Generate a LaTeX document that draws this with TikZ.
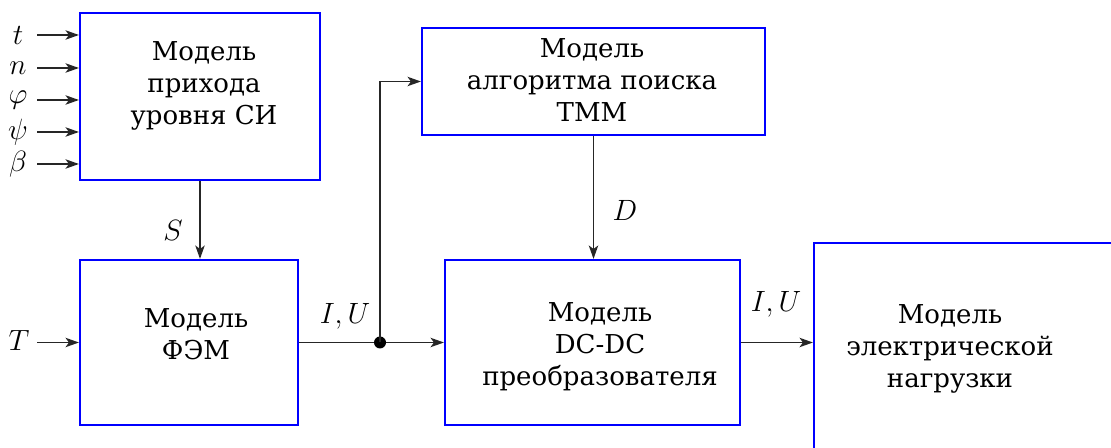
\documentclass[tikz,border=0pt]{standalone}
\usepackage{fix-cm}
\usepackage{fontspec}
\setmainfont{DejaVu Serif}
\usetikzlibrary{arrows.meta}
\begin{document}
\begin{tikzpicture}[x=0.75pt,y=-0.75pt,
  block/.style={draw=blue, line width=1.6pt, rectangle, inner sep=0pt},
  txt/.style={align=center, font=\fontsize{19.5}{24}\selectfont, inner sep=0pt},
  sig/.style={font=\fontsize{22}{26}\selectfont, inner sep=0pt},
  flow/.style={draw=black!85, line width=1.3pt, -{Stealth[length=10pt,width=7pt,inset=2.5pt]}}]
\useasboundingbox (0,0) rectangle (1111,448);
\clip (0,0) rectangle (1111,448);
\fill[white] (0,0) rectangle (1111,448);

% blocks
\node[block, minimum width=180pt, minimum height=125.25pt] (b1) at (200,96.5) {};
\node[block, minimum width=163.5pt, minimum height=123.75pt] (b2) at (189,342.5) {};
\node[block, minimum width=257.25pt, minimum height=80.25pt] (b3) at (593.5,81.5) {};
\node[block, minimum width=221.25pt, minimum height=123.75pt] (b4) at (592.5,342.5) {};
\node[block, minimum width=244.5pt, minimum height=177.75pt] (b5) at (977,361.5) {};

% block texts
\node[txt] (t1) at (204,86) {Модель\\прихода\\уровня СИ};
\node[txt] (t2) at (196,334) {Модель\\ФЭМ};
\node[txt] (t3) at (592,80) {Модель\\алгоритма поиска\\ТММ};
\node[txt] (t4) at (600,347) {Модель\\DC-DC\\преобразователя};
\node[txt] (t5) at (950,349) {Модель\\электрической\\нагрузки};

% input signals of the first block
\foreach \lab/\yy/\nm in {t/35/in1, n/68/in2, \varphi/100/in3, \psi/132/in4, \beta/164/in5}{
  \coordinate (\nm) at (37,\yy);
  \node[sig] (l\nm) at (18,\yy) {$\lab$};
  \draw[flow] (\nm) -- (b1.west |- \nm);
}
% temperature input
\coordinate (inT) at (37,342.5);
\node[sig] (lT) at (19,340) {$T$};
\draw[flow] (inT) -- (b2.west |- inT);

% S
\draw[flow] (b1.south) -- (b1.south |- b2.north);
\node[sig] (lS) at (173,230) {$S$};

% PV output with branch to the tracking algorithm
\coordinate (j) at (380,342.5);
\draw[flow] (b2.east) -- (b4.west);
\fill (j) circle[radius=4.5pt];
\draw[flow] (j) |- (b3.west);
\node[sig] (lIU1) at (345,316) {$I,U$};

% D
\draw[flow] (b3.south) -- (b3.south |- b4.north);
\node[sig] (lD) at (625,210) {$D$};

% converter output to the load
\draw[flow] (b4.east) -- (b4.east -| b5.west);
\node[sig] (lIU2) at (776,304) {$I,U$};
\end{tikzpicture}
\end{document}
